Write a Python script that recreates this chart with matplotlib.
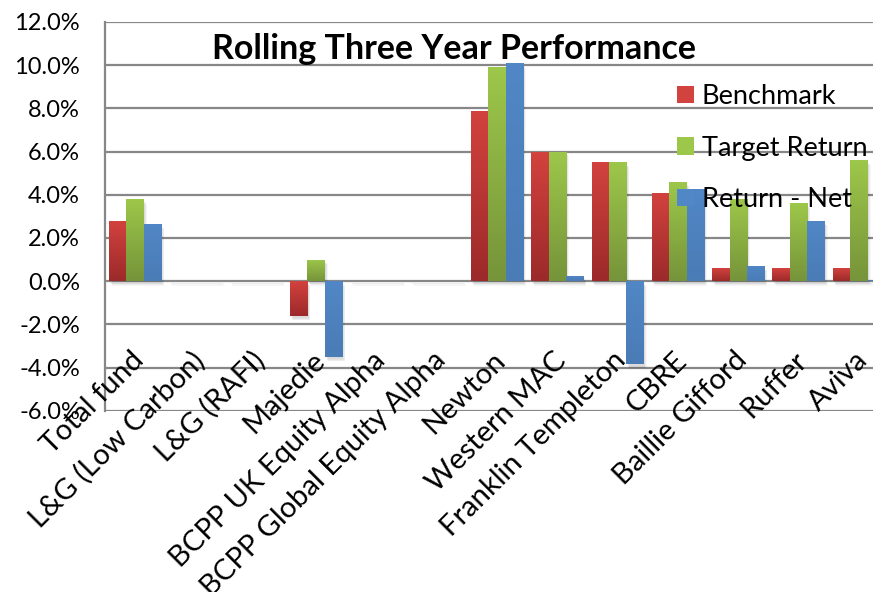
import numpy as np
import matplotlib
matplotlib.use("Agg")
import matplotlib.pyplot as plt
from matplotlib.colors import LinearSegmentedColormap
from matplotlib.patches import Patch, Rectangle
from matplotlib.ticker import FuncFormatter

plt.rcParams['font.family'] = ['Lato', 'DejaVu Sans']

categories = ['Total fund', 'L&G (Low Carbon)', 'L&G (RAFI)', 'Majedie',
              'BCPP UK Equity Alpha', 'BCPP Global Equity Alpha', 'Newton',
              'Western MAC', 'Franklin Templeton', 'CBRE', 'Baillie Gifford',
              'Ruffer', 'Aviva']
benchmark = [2.8, 0, 0, -1.6, 0, 0, 7.9, 6.0, 5.5, 4.1, 0.6, 0.6, 0.6]
target_return = [3.8, 0, 0, 1.0, 0, 0, 9.9, 6.0, 5.5, 4.6, 3.8, 3.6, 5.6]
return_net = [2.65, 0, 0, -3.5, 0, 0, 10.1, 0.25, -3.85, 4.25, 0.7, 2.8, 0.05]
series_names = ['Benchmark', 'Target Return', 'Return - Net']

# (top colour, bottom colour) for the excel-ish gradient fill
gradients = [('#d2423e', '#9c2a2a'),
             ('#9dc74a', '#76943a'),
             ('#5187c6', '#4a7cb6')]

fig = plt.figure(figsize=(8.73, 5.92), dpi=100)
ax = fig.add_axes([105 / 873, 1 - 410.7 / 592, 784 / 873, (410.7 - 22) / 592])

x = np.arange(len(categories))
w = 0.288
for k, (vals, name, (c_top, c_bot)) in enumerate(zip([benchmark, target_return, return_net], series_names, gradients)):
    xs = x + (k - 1) * w
    cmap = LinearSegmentedColormap.from_list(name, [c_bot, c_top])
    bars = ax.bar(xs, vals, width=w, color='none', edgecolor='none', zorder=3)
    for b in bars:
        bx, by = b.get_x(), b.get_y()
        bw, bh = b.get_width(), b.get_height()
        # soft drop shadow
        for s in range(4):
            ax.add_patch(Rectangle((bx + 0.02 + s * 0.01, min(by, by + bh) - 0.12 - s * 0.03),
                                   bw, max(abs(bh), 0.05), color='#000000', alpha=0.035,
                                   lw=0, zorder=2))
        if bh == 0:
            continue
        grad = np.linspace(0, 1, 64).reshape(-1, 1)
        y0, y1 = min(by, by + bh), max(by, by + bh)
        im = ax.imshow(grad, cmap=cmap, aspect='auto', origin='lower',
                       extent=[bx, bx + bw, y0, y1], zorder=3, interpolation='bilinear')
        im.set_clip_path(b)

ax.set_xlim(-0.5, len(categories) - 0.5)
ax.set_ylim(-6, 12)
ax.set_yticks(np.arange(-6, 12.1, 2))
ax.yaxis.set_major_formatter(FuncFormatter(lambda v, p: f'{v:.1f}%'))
ax.tick_params(axis='y', length=0, pad=18, labelsize=17)
ax.set_xticks([])
ax.grid(axis='y', color='#878787', lw=1.6, zorder=1)
for side in ['top', 'right', 'bottom']:
    ax.spines[side].set_visible(False)
ax.spines['left'].set_color('#878787')
ax.spines['left'].set_linewidth(1.6)

for i, name in enumerate(categories):
    ax.text(i - 0.08, -3.05, name, rotation=45, rotation_mode='anchor',
            ha='right', va='top', fontsize=21, zorder=5)

fig.text(454 / 873, 1 - 49 / 592, 'Rolling Three Year Performance', ha='center',
         va='center', fontsize=24.5, fontweight='bold')

handles = [Patch(facecolor=c_top, edgecolor='none') for c_top, _ in gradients]
ax.legend(handles, series_names, loc='upper left', bbox_to_anchor=(677 / 873, 1 - 84 / 592),
          bbox_transform=fig.transFigure, frameon=False, fontsize=19.5,
          handlelength=0.62, handleheight=0.62, handletextpad=0.3,
          labelspacing=0.98, borderpad=0, borderaxespad=0)

fig.savefig('out.png', dpi=100)
